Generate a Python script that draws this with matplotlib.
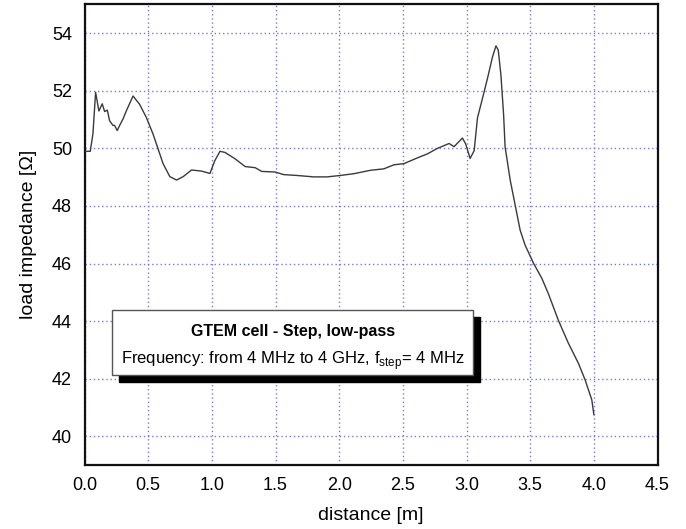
import numpy as np
import matplotlib
matplotlib.use("Agg")
from matplotlib import pyplot as plt
from matplotlib.patches import Rectangle

plt.rcParams['font.family'] = ['Liberation Sans', 'DejaVu Sans']

# distancia [m] y impedancia de carga [Ohm]
dist = [0.0, 0.045, 0.066, 0.087, 0.113, 0.139, 0.158, 0.179, 0.197, 0.223,
        0.236, 0.257, 0.276, 0.302, 0.328, 0.381, 0.433, 0.486, 0.538, 0.578,
        0.617, 0.670, 0.723, 0.775, 0.841, 0.920, 0.985, 1.024, 1.064, 1.103,
        1.182, 1.261, 1.340, 1.392, 1.497, 1.563, 1.668, 1.800, 1.905, 2.009,
        2.114, 2.246, 2.351, 2.430, 2.508, 2.614, 2.693, 2.771, 2.863, 2.902,
        2.968, 2.994, 3.028, 3.060, 3.086, 3.126, 3.165, 3.204, 3.231, 3.249,
        3.270, 3.291, 3.303, 3.343, 3.382, 3.421, 3.460, 3.526, 3.591,
        3.642, 3.721, 3.800, 3.879, 3.931, 3.984, 4.0]
imped = [49.90, 49.90, 50.5, 51.95, 51.30, 51.55, 51.28, 51.33, 50.96, 50.80,
         50.80, 50.62, 50.80, 51.02, 51.30, 51.82, 51.53, 51.07, 50.50, 49.98,
         49.47, 49.02, 48.90, 49.02, 49.25, 49.21, 49.13, 49.58, 49.90, 49.86,
         49.64, 49.37, 49.33, 49.20, 49.18, 49.09, 49.06, 49.01, 49.01, 49.06,
         49.12, 49.24, 49.29, 49.43, 49.47, 49.67, 49.81, 50.00, 50.17, 50.06,
         50.36, 50.15, 49.65, 49.92, 51.06, 51.75, 52.44, 53.18, 53.56, 53.42,
         52.56, 51.18, 50.05, 48.90, 48.03, 47.16, 46.64, 46.01, 45.49,
         44.96, 44.03, 43.23, 42.53, 41.96, 41.26, 40.75]

xticks = [0.0, 0.5, 1.0, 1.5, 2.0, 2.5, 3.0, 3.5, 4.0, 4.5]
yticks = [40, 42, 44, 46, 48, 50, 52, 54]

fig = plt.figure(figsize=(6.86, 5.29), dpi=100)
ax = fig.add_axes([0.1232, 0.121, 0.8353, 0.8705])

ax.plot(dist, imped, color='#3a3a3a', linewidth=1.0, zorder=3)

ax.set_xlim(0, 4.5)
ax.set_ylim(39, 55)
ax.set_xticks(xticks)
ax.set_xticklabels(['%.1f' % t for t in xticks])
ax.set_yticks(yticks)
ax.tick_params(length=0, labelsize=13, pad=9)
ax.grid(True, color='#7b78e6', linestyle=(0, (1, 2)), linewidth=1.0)
for s in ax.spines.values():
    s.set_linewidth(1.6)
    s.set_color('#111111')

ax.set_xlabel('distance [m]', fontsize=14, labelpad=9)
ax.set_ylabel('load impedance [Ω]', fontsize=14, labelpad=11)

# caja de texto con sombra
bx0, bx1 = 0.214, 3.054
by0, by1 = 42.14, 44.39
ax.add_patch(Rectangle((bx0 + 0.055, by0 - 0.24), bx1 - bx0, by1 - by0,
                       facecolor='black', edgecolor='black', zorder=4))
ax.add_patch(Rectangle((bx0, by0), bx1 - bx0, by1 - by0,
                       facecolor='white', edgecolor='#555555', linewidth=1.0, zorder=5))
xc = (bx0 + bx1) / 2
ax.text(xc, 43.64, 'GTEM cell - Step, low-pass', ha='center', va='center',
        fontsize=11.5, fontweight='bold', zorder=6)
ax.text(xc, 42.62, r'Frequency: from 4 MHz to 4 GHz, f$_{\mathregular{step}}$= 4 MHz',
        ha='center', va='center', fontsize=12, zorder=6)

fig.savefig('out.png', dpi=100)
